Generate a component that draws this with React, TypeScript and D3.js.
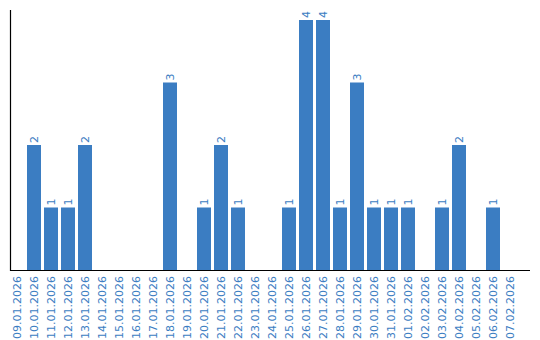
import React from "react";
import * as d3 from "d3";

const dates = [
  "09.01.2026","10.01.2026","11.01.2026","12.01.2026","13.01.2026","14.01.2026",
  "15.01.2026","16.01.2026","17.01.2026","18.01.2026","19.01.2026","20.01.2026",
  "21.01.2026","22.01.2026","23.01.2026","24.01.2026","25.01.2026","26.01.2026",
  "27.01.2026","28.01.2026","29.01.2026","30.01.2026","31.01.2026","01.02.2026",
  "02.02.2026","03.02.2026","04.02.2026","05.02.2026","06.02.2026","07.02.2026",
];
const counts = [0,2,1,1,2,0,0,0,0,3,0,1,2,1,0,0,1,4,4,1,3,1,1,1,0,1,2,0,1,0];

const W = 540, H = 340;
const left = 10, baseY = 270, topY = 10, axisRight = 530;
const color = "#3b7dc2";
const font = "DejaVu Sans, Verdana, sans-serif";

export default function App() {
  const x = d3.scaleBand<string>().domain(dates).range([left, left + 17 * 30 - 3]).paddingInner(3 / 17).paddingOuter(0);
  const y = d3.scaleLinear().domain([0, 4]).range([baseY, 20]);
  const bw = x.bandwidth();
  return (
    <svg width={W} height={H} style={{ position: "absolute", left: 0, top: 0, display: "block" }}>
      {dates.map((d, i) => {
        const v = counts[i];
        const bx = x(d)!;
        const cx = bx + bw / 2;
        return (
          <g key={d}>
            {v > 0 && (
              <>
                <rect x={bx} y={y(v)} width={bw} height={baseY - y(v)} fill={color} />
                <text
                  transform={`translate(${cx + 4},${y(v) - 2}) rotate(-90)`}
                  fontFamily={font}
                  fontSize={11}
                  fill={color}
                  textAnchor="start"
                >
                  {v}
                </text>
              </>
            )}
            <text
              transform={`translate(${cx + 4},${baseY + 6}) rotate(-90)`}
              fontFamily={font}
              fontSize={11}
              fill={color}
              textAnchor="end"
            >
              {d}
            </text>
          </g>
        );
      })}
      <line x1={left + 0.5} x2={left + 0.5} y1={topY} y2={baseY + 1} stroke="#000" strokeWidth={1.2} />
      <line x1={left} x2={axisRight} y1={baseY + 0.5} y2={baseY + 0.5} stroke="#000" strokeWidth={1.2} />
    </svg>
  );
}
